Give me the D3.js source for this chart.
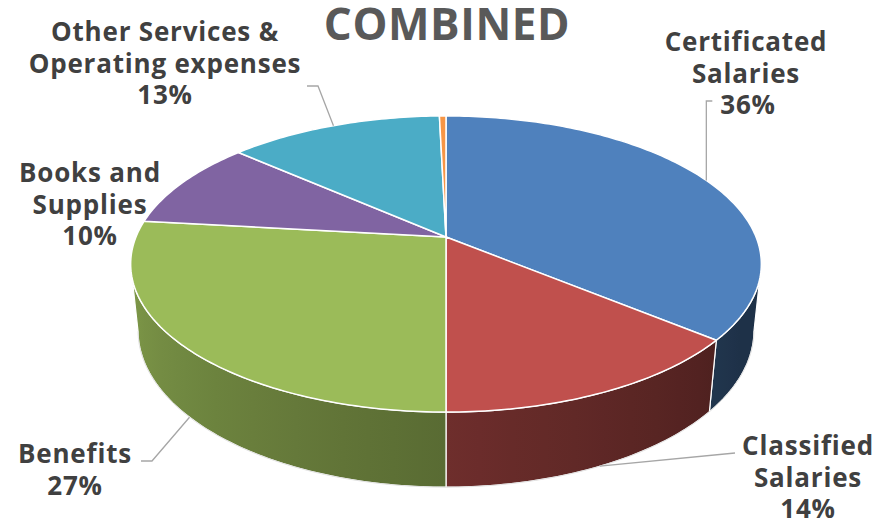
<!DOCTYPE html>
<html>
<head>
<meta charset="utf-8">
<script src="https://cdn.jsdelivr.net/npm/d3@7"></script>
<style>
  body { margin: 0; background: #fff; }
  svg { display: block; }
  text { font-family: "Open Sans", sans-serif; font-weight: 700; }
</style>
</head>
<body>
<div id="graf"></div>
<script>
// Datos
const categorias = ['Certificated Salaries', 'Classified Salaries', 'Benefits', 'Books and Supplies', 'Other Services & Operating expenses', 'Capital Outlay']
const valores = [36.0, 14.0, 26.8, 9.7, 13.1, 0.4]
const colores = ['#4F81BD', '#C0504D', '#9BBB59', '#8064A2', '#4BACC6', '#F79646']
const lineasEtiqueta = [
  ['Certificated', 'Salaries'],
  ['Classified', 'Salaries'],
  ['Benefits'],
  ['Books and', 'Supplies'],
  ['Other Services &', 'Operating expenses'],
  []
]
const titulo = 'COMBINED'

const ancho_total = 895
const alto_total = 522

svg = d3.select('#graf').append('svg')
        .attr('width', ancho_total)
        .attr('height', alto_total)
defs = svg.append('defs')

// Camara para el pastel 3D (perspectiva)
const cam = { cx: 446, cy: 237, f: 1508, D: 1, R: 0.2056, H: 0.0502, alfa: 27.5 * Math.PI / 180 }

function proy(phi, h, r = cam.R) {
  const x = r * Math.sin(phi), d = r * Math.cos(phi)
  const yc = d * Math.sin(cam.alfa) + h * Math.cos(cam.alfa)
  const zc = cam.D + d * Math.cos(cam.alfa) - h * Math.sin(cam.alfa)
  return [cam.cx + cam.f * x / zc, cam.cy - cam.f * yc / zc]
}

function arco(a, b, h) {
  const n = Math.max(2, Math.ceil((b - a) / (Math.PI / 180)))
  return d3.range(n + 1).map(i => proy(a + (b - a) * i / n, h))
}

const pie = d3.pie().sort(null).value(d => d)
arcos = pie(valores)
total = d3.sum(valores)
pct = d3.format('.0%')

const linea = d3.line()

// rango visible del costado
const k = cam.R * Math.cos(cam.alfa) / cam.D
const vis0 = Math.acos(-k), vis1 = 2 * Math.PI - Math.acos(-k)

function sombra(phi) {
  const deg = phi * 180 / Math.PI
  return Math.max(0.38, Math.min(0.85, 0.41 + (deg - 130) * 0.00323))
}

// Costados (con degradado horizontal)
lados = svg.append('g')
arcos.forEach((s, i) => {
  const a = Math.max(s.startAngle, vis0), b = Math.min(s.endAngle, vis1)
  if (a >= b) return
  const xa = proy(a, 0)[0], xb = proy(b, 0)[0]
  const grad = defs.append('linearGradient')
    .attr('id', 'lado' + i)
    .attr('gradientUnits', 'userSpaceOnUse')
    .attr('x1', xa).attr('x2', xb).attr('y1', 0).attr('y2', 0)
  const c = d3.rgb(colores[i])
  d3.range(11).forEach(j => {
    const p = a + (b - a) * j / 10
    const f = sombra(p)
    grad.append('stop')
        .attr('offset', Math.abs(xb - xa) < 0.5 ? j / 10 : (proy(p, 0)[0] - xa) / (xb - xa))
        .attr('stop-color', d3.rgb(c.r * f, c.g * f, c.b * f))
  })
  const borde = arco(a, b, 0).concat(arco(a, b, -cam.H).reverse())
  lados.append('path')
   .attr('d', linea(borde) + 'Z')
   .attr('fill', `url(#lado${i})`)
   .attr('stroke', '#fff')
   .attr('stroke-width', 1.2)
})

// silueta exterior gris claro
lados.append('path')
     .attr('d', linea(arco(vis0, vis1, -cam.H)))
     .attr('fill', 'none')
     .attr('stroke', '#d9d9d9')
     .attr('stroke-width', 0.8)

// Caras superiores
tapas = svg.append('g')
arcos.forEach((s, i) => {
  const pts = [[cam.cx, cam.cy]].concat(arco(s.startAngle, s.endAngle, 0))
  tapas.append('path')
       .attr('d', linea(pts) + 'Z')
       .attr('fill', colores[i])
       .attr('stroke', '#fff')
       .attr('stroke-width', 1.5)
       .attr('stroke-linejoin', 'round')
})

// Titulo
svg.append('text')
   .attr('x', 447)
   .attr('y', 40)
   .attr('text-anchor', 'middle')
   .attr('fill', '#595959')
   .style('font-size', '44px')
   .style('letter-spacing', '0.6px')
   .text(titulo)

// Etiquetas
const disposicion = [
  { x: 746, y: 51, cara: 'top', guia: p => [[p[0], 101], [p[0] + 6, 101]] },
  { x: 808, y: 455, cara: 'bottom', guia: p => [[735, 453]] },
  { x: 75, y: 463, cara: 'bottom', guia: p => [[152, 461], [141, 461]] },
  { x: 90, y: 182, cara: null },
  { x: 165, y: 41, cara: 'top', guia: p => [[318, 86], [307, 86]] },
  null
]

etiquetas = svg.append('g')
arcos.forEach((s, i) => {
  const L = disposicion[i]
  if (!L) return
  const mid = (s.startAngle + s.endAngle) / 2
  if (L.cara) {
    const p = proy(mid, L.cara === 'top' ? 0 : -cam.H)
    etiquetas.append('path')
      .attr('d', linea([p].concat(L.guia(p))))
      .attr('fill', 'none')
      .attr('stroke', '#a6a6a6')
      .attr('stroke-width', 1.3)
  }
  const t = etiquetas.append('text')
    .attr('text-anchor', 'middle')
    .attr('fill', '#404040')
    .style('font-size', '26px')
    .style('letter-spacing', '0.8px')
  const lineas = lineasEtiqueta[i].concat([pct(s.value / total)])
  lineas.forEach((l, j) => {
    t.append('tspan')
     .attr('x', L.x + (j === lineas.length - 1 && i === 0 ? 2 : 0))
     .attr('y', L.y + j * 31.7)
     .text(l)
  })
})
</script>
</body>
</html>
